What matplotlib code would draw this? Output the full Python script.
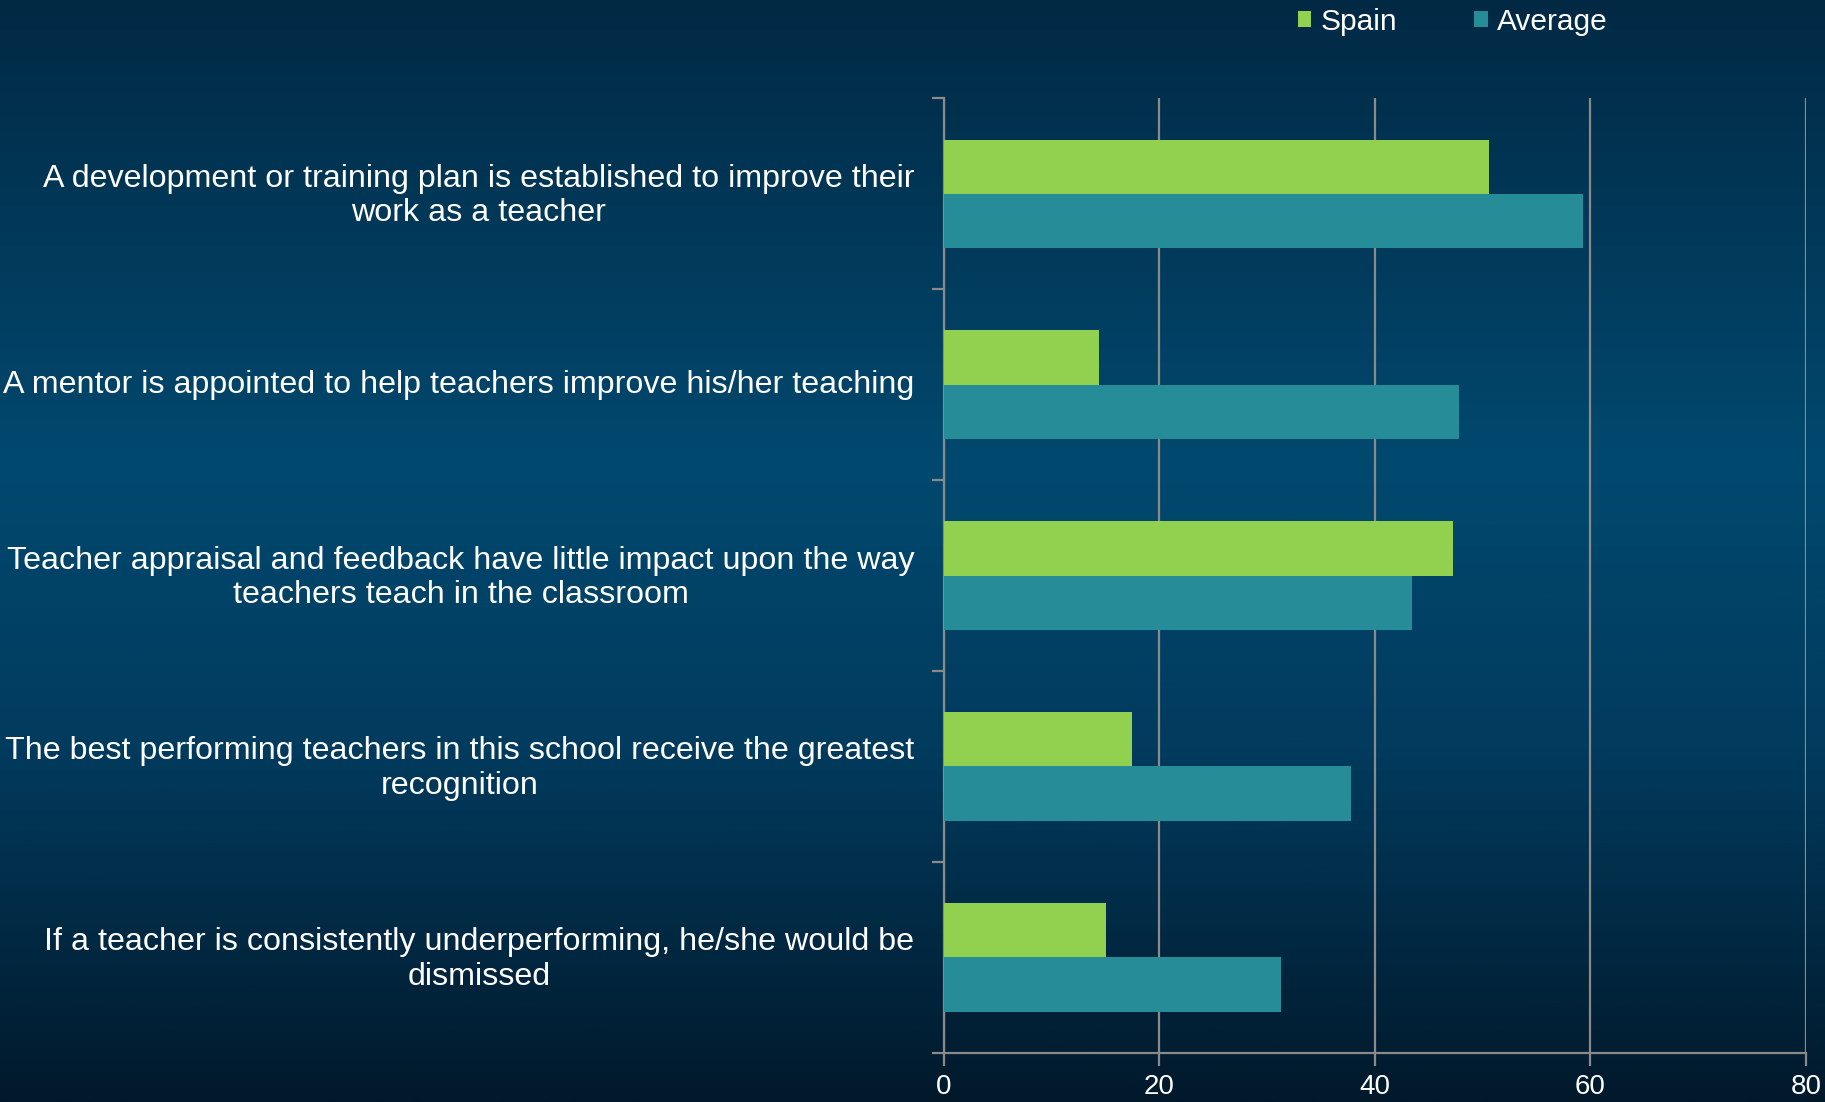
import numpy as np
import matplotlib.pyplot as plt
import matplotlib.transforms as mtransforms
from matplotlib.colors import LinearSegmentedColormap

# Survey data (% of teachers)
categories = [
    "A development or training plan is established to improve their\nwork as a teacher",
    "A mentor is appointed to help teachers improve his/her teaching",
    "Teacher appraisal and feedback have little impact upon the way\nteachers teach in the classroom",
    "The best performing teachers in this school receive the greatest\nrecognition",
    "If a teacher is consistently underperforming, he/she would be\ndismissed",
]
spain = [50.6, 14.4, 47.3, 17.5, 15.1]
average = [59.3, 47.8, 43.5, 37.8, 31.3]
x_ticks = [0, 20, 40, 60, 80]

plt.rcParams["font.family"] = ["Liberation Sans", "DejaVu Sans"]

fig = plt.figure(figsize=(18.25, 11.02), dpi=100)

# background gradient (dark top, lighter upper-middle, dark bottom)
bg = fig.add_axes([0, 0, 1, 1], zorder=0)
cmap = LinearSegmentedColormap.from_list(
    "bg", [(0.0, "#022944"), (0.42, "#01496f"), (0.68, "#013b5e"), (1.0, "#01192b")])
grad = np.linspace(0, 1, 512).reshape(-1, 1)
bg.imshow(grad, aspect="auto", cmap=cmap, extent=[0, 1, 1, 0])
bg.set_axis_off()

ax = fig.add_axes([0.517, 0.0445, 0.4725, 0.8665], zorder=1)
ax.patch.set_alpha(0)

n = len(categories)
pos = np.arange(n)
h = 0.283
ax.barh(pos - h / 2, spain, height=h, color="#92d050", label="Spain", zorder=3)
ax.barh(pos + h / 2, average, height=h, color="#268c98", label="Average", zorder=3)

ax.set_xlim(0, 80)
ax.set_ylim(n - 0.5, -0.5)
ax.set_xticks(x_ticks)
ax.set_xticklabels([str(t) for t in x_ticks])
ax.xaxis.grid(True, color="#8a8a8a", linewidth=1.6, zorder=1)

# category boundaries get the ticks, labels sit at the centres
ax.set_yticks(np.arange(-0.5, n, 1.0))
ax.set_yticklabels([])
ax.set_yticks(pos, minor=True)
ax.set_yticklabels(categories, minor=True, fontsize=23.2, color="white",
                   multialignment="center")
ax.tick_params(axis="y", which="major", length=9, width=1.6, color="#8a8a8a")
ax.tick_params(axis="y", which="minor", length=0, pad=21)
ax.tick_params(axis="x", length=9, width=1.6, color="#8a8a8a",
               labelsize=20, labelcolor="white", pad=6)

# nudge category labels up a touch
shift = mtransforms.ScaledTranslation(0, 3.5 / 100, fig.dpi_scale_trans)
for lbl in ax.get_yticklabels(minor=True):
    lbl.set_transform(lbl.get_transform() + shift)

for s in ["top", "right"]:
    ax.spines[s].set_visible(False)
for s in ["left", "bottom"]:
    ax.spines[s].set_color("#8a8a8a")
    ax.spines[s].set_linewidth(1.6)

fig.legend(loc="center", bbox_to_anchor=(0.796, 0.98), ncol=2, frameon=False,
           fontsize=21.5, labelcolor="white", handlelength=0.45, handleheight=0.45,
           handletextpad=0.3, columnspacing=2.6)

fig.savefig("out.png", dpi=100)
